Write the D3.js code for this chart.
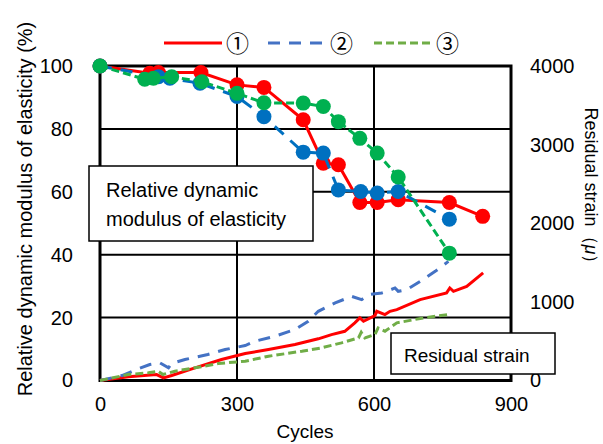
<!DOCTYPE html>
<html>
<head>
<meta charset="utf-8">
<script src="https://cdn.jsdelivr.net/npm/d3@7"></script>
<style>
  body { margin: 0; background: #fff; }
  svg text { font-family: "Liberation Sans", Arial, "DejaVu Sans", sans-serif; fill: #000; }
</style>
</head>
<body>
<svg id="chart" width="603" height="444"></svg>
<script>
// relative dynamic modulus (%) vs cycles
var modCycles1 = [0, 109, 128, 221, 300, 359, 445, 489, 522, 569, 607, 653, 765, 838];
var modValues1 = [100, 97.7, 97.9, 97.9, 94.0, 93.2, 82.9, 69.1, 68.6, 56.6, 56.6, 57.5, 56.6, 52.2];
var modCycles2 = [0, 128, 153, 219, 300, 359, 445, 489, 522, 571, 607, 653, 765];
var modValues2 = [100, 96.6, 96.1, 94.5, 90.3, 83.9, 72.6, 72.3, 60.6, 60.1, 59.6, 60.1, 51.3];
var modCycles3 = [0, 98, 117, 157, 223, 300, 359, 445, 489, 522, 569, 607, 653, 765];
var modValues3 = [100, 95.8, 96.1, 96.6, 95.0, 91.3, 88.3, 88.2, 87.1, 82.3, 77.0, 72.3, 64.7, 40.5];

// residual strain (micro) vs cycles
var strainCycles1 = [0, 62, 124, 139, 157, 208, 266, 318, 369, 427, 478, 507, 536, 558, 569, 577, 602, 606, 624, 635, 650, 701, 759, 766, 774, 803, 839];
var strainValues1 = [0, 47, 76, 34, 63, 161, 267, 343, 394, 457, 530, 584, 626, 733, 796, 753, 825, 880, 838, 880, 902, 1029, 1114, 1177, 1134, 1197, 1368];
var strainCycles2 = [0, 48, 80, 109, 131, 150, 157, 186, 236, 274, 318, 339, 383, 427, 456, 478, 515, 551, 573, 588, 617, 628, 646, 653, 672, 701, 734, 763];
var strainValues2 = [0, 63, 140, 203, 225, 161, 216, 267, 330, 394, 444, 499, 563, 648, 753, 880, 987, 1070, 1029, 1092, 1114, 1134, 1177, 1134, 1156, 1261, 1388, 1515];
var strainCycles3 = [0, 62, 106, 127, 138, 164, 208, 259, 318, 369, 442, 485, 529, 566, 572, 580, 602, 609, 624, 650, 708, 763];
var strainValues3 = [0, 76, 98, 118, 76, 118, 161, 216, 245, 309, 372, 415, 479, 542, 613, 542, 584, 669, 626, 733, 796, 838];

var xTicks = [0, 300, 600, 900];
var yTicks = [0, 20, 40, 60, 80, 100];
var y2Ticks = [0, 1000, 2000, 3000, 4000];
var seriesNames = ["\u2460", "\u2461", "\u2462"];

var svg = d3.select("#chart");

var xScale = d3.scaleLinear().domain([0, 900]).range([100, 511]);
var yScale = d3.scaleLinear().domain([0, 100]).range([380.5, 66]);
var y2Scale = d3.scaleLinear().domain([0, 4000]).range([380.5, 66]);

// gridlines
var grid = svg.append("g").attr("class", "grid");
grid.selectAll(".hgrid").data(yTicks.slice(1, -1)).enter()
    .append("line")
    .attr("x1", xScale(0)).attr("x2", xScale(900))
    .attr("y1", function(d){ return yScale(d); })
    .attr("y2", function(d){ return yScale(d); })
    .attr("stroke", "#000").attr("stroke-width", 2);
grid.selectAll(".vgrid").data(xTicks.slice(1, -1)).enter()
    .append("line")
    .attr("y1", yScale(0)).attr("y2", yScale(100))
    .attr("x1", function(d){ return xScale(d); })
    .attr("x2", function(d){ return xScale(d); })
    .attr("stroke", "#000").attr("stroke-width", 2);

// frame
svg.append("rect")
    .attr("x", xScale(0)).attr("y", yScale(100))
    .attr("width", xScale(900) - xScale(0))
    .attr("height", yScale(0) - yScale(100))
    .attr("fill", "none").attr("stroke", "#000").attr("stroke-width", 3);

// axes (labels only, the frame draws the lines)
var xAxis = svg.append("g").attr("transform", "translate(0," + 380 + ")")
    .call(d3.axisBottom(xScale).tickValues(xTicks).tickSize(0).tickPadding(17));
var yAxis = svg.append("g").attr("transform", "translate(" + 73 + ",0)")
    .call(d3.axisLeft(yScale).tickValues(yTicks).tickSize(0).tickPadding(0));
var y2Axis = svg.append("g").attr("transform", "translate(" + 530 + ",0)")
    .call(d3.axisRight(y2Scale).tickValues(y2Ticks).tickFormat(d3.format("d")).tickSize(0).tickPadding(0));
[xAxis, yAxis, y2Axis].forEach(function(a){
    a.select(".domain").remove();
    a.selectAll("text").style("font-size", "20px").attr("fill", "#000");
});

// strain lines
var strainLine = d3.line()
    .x(function(d){ return xScale(d[0]); })
    .y(function(d){ return y2Scale(d[1]); });
var strainStyles = [
    { color: "#FF0000", dash: null },
    { color: "#4472C4", dash: "12,9" },
    { color: "#70AD47", dash: "8,4" }
];
[[strainCycles1, strainValues1], [strainCycles2, strainValues2], [strainCycles3, strainValues3]].forEach(function(s, i){
    svg.append("path")
        .datum(d3.zip(s[0], s[1]))
        .attr("d", strainLine)
        .attr("fill", "none")
        .attr("stroke", strainStyles[i].color)
        .attr("stroke-width", 3)
        .attr("stroke-dasharray", strainStyles[i].dash);
});

// modulus lines with markers
var modLine = d3.line()
    .x(function(d){ return xScale(d[0]); })
    .y(function(d){ return yScale(d[1]); });
var modStyles = [
    { color: "#FF0000", dash: null },
    { color: "#0070C0", dash: "12,9" },
    { color: "#00B050", dash: "8,4" }
];
[[modCycles1, modValues1], [modCycles2, modValues2], [modCycles3, modValues3]].forEach(function(s, i){
    var pts = d3.zip(s[0], s[1]);
    svg.append("path")
        .datum(pts)
        .attr("d", modLine)
        .attr("fill", "none")
        .attr("stroke", modStyles[i].color)
        .attr("stroke-width", 3)
        .attr("stroke-dasharray", modStyles[i].dash);
    svg.selectAll(".dot" + i)
        .data(pts).enter()
        .append("circle")
        .attr("cx", function(d){ return xScale(d[0]); })
        .attr("cy", function(d){ return yScale(d[1]); })
        .attr("r", 7.5)
        .attr("fill", modStyles[i].color);
});

// text boxes
svg.append("rect").attr("x", 89).attr("y", 166).attr("width", 224).attr("height", 75)
    .attr("fill", "#fff").attr("stroke", "#000").attr("stroke-width", 1.5);
svg.append("text").attr("x", 106).attr("y", 197).style("font-size", "20px").text("Relative dynamic");
svg.append("text").attr("x", 106).attr("y", 226).style("font-size", "20px").text("modulus of elasticity");

svg.append("rect").attr("x", 391).attr("y", 333).attr("width", 164).attr("height", 41)
    .attr("fill", "#fff").attr("stroke", "#000").attr("stroke-width", 1.5);
svg.append("text").attr("x", 404).attr("y", 362).style("font-size", "19px").text("Residual strain");

// axis titles
svg.append("text")
    .attr("transform", "translate(32,209) rotate(-90)")
    .attr("text-anchor", "middle")
    .style("font-size", "20px")
    .text("Relative dynamic modulus of elasticity (%)");
var t2 = svg.append("text")
    .attr("transform", "translate(585,190) rotate(90)")
    .attr("text-anchor", "middle")
    .style("font-size", "18px");
t2.append("tspan").text("Residual strain\uFF08");
t2.append("tspan").style("font-style", "italic").text("\u03BC");
t2.append("tspan").text("\uFF09");
svg.append("text")
    .attr("x", 305).attr("y", 438)
    .attr("text-anchor", "middle")
    .style("font-size", "19px")
    .text("Cycles");

// legend
var legendX = [164, 268, 374];
var legend = svg.append("g").attr("class", "legend");
strainStyles.forEach(function(st, i){
    legend.append("line")
        .attr("x1", legendX[i]).attr("x2", legendX[i] + 58)
        .attr("y1", 43).attr("y2", 43)
        .attr("stroke", st.color).attr("stroke-width", 3)
        .attr("stroke-dasharray", st.dash);
    legend.append("text")
        .attr("x", legendX[i] + 62).attr("y", 52)
        .style("font-size", "23px")
        .style("font-family", "'Noto Sans CJK JP', 'DejaVu Sans', sans-serif")
        .text(seriesNames[i]);
});
</script>
</body>
</html>
